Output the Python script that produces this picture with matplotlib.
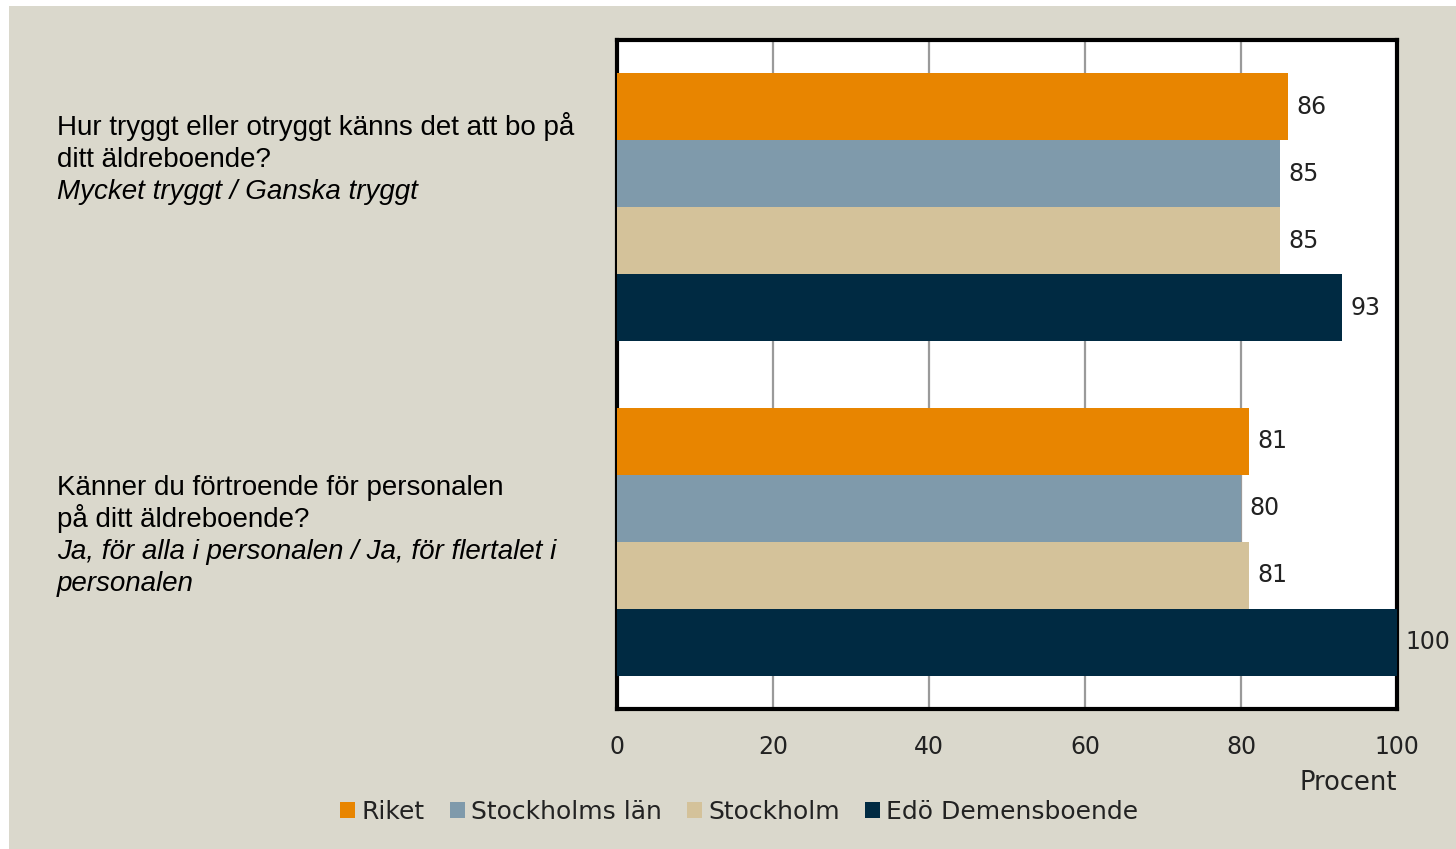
import matplotlib
matplotlib.use("Agg")
import matplotlib.pyplot as plt
from matplotlib.patches import Rectangle
import numpy as np

series = ["Riket", "Stockholms län", "Stockholm", "Edö Demensboende"]
colors = ["#E88500", "#7F9AAB", "#D4C29A", "#002A42"]
q1_values = [86, 85, 85, 93]
q2_values = [81, 80, 81, 100]
xticks = [0, 20, 40, 60, 80, 100]

q1_lines = [("Hur tryggt eller otryggt känns det att bo på", "normal"),
            ("ditt äldreboende?", "normal"),
            ("Mycket tryggt / Ganska tryggt", "italic")]
q2_lines = [("Känner du förtroende för personalen", "normal"),
            ("på ditt äldreboende?", "normal"),
            ("Ja, för alla i personalen / Ja, för flertalet i", "italic"),
            ("personalen", "italic")]

W, H = 1456, 849
fig = plt.figure(figsize=(W / 100, H / 100), dpi=100, facecolor="white")
bg = "#DAD8CC"
fig.patches.append(Rectangle((9 / W, 0), 1 - 9 / W, 1 - 6 / H,
                             transform=fig.transFigure, facecolor=bg,
                             edgecolor="none", zorder=-10))

ax = fig.add_axes([617 / W, 1 - 709 / H, (1397 - 617) / W, (709 - 40) / H])
ax.set_facecolor("white")

for gi, vals in enumerate([q1_values, q2_values]):
    for si, v in enumerate(vals):
        y = gi * 5 + si
        ax.barh(y, v, height=1.0, color=colors[si], zorder=3,
                label=series[si] if gi == 0 else None)
        ax.annotate(str(v), xy=(v, y), xytext=(6, 0), textcoords="offset points",
                    ha="left", va="center", fontsize=17, color="#222222",
                    family="DejaVu Sans", zorder=5, annotation_clip=False)

ax.set_xlim(0, 100)
ax.set_ylim(9, -1)
ax.set_yticks([])
ax.set_xticks(xticks)
ax.set_xticklabels([str(t) for t in xticks], fontsize=17, color="#222222")
ax.tick_params(axis="x", length=0, pad=19)
for x in xticks[1:-1]:
    ax.axvline(x, color="#9A9A9A", lw=1.6, zorder=1)
for s in ax.spines.values():
    s.set_color("black")
    s.set_linewidth(3)

fig.text(1397 / W, 1 - 783 / H, "Procent", ha="right", va="center",
         fontsize=18.5, color="#222222")

for i, (txt, st) in enumerate(q1_lines):
    fig.text(57 / W, 1 - (135 + 32 * i) / H, txt, ha="left", va="baseline",
             fontsize=20, style=st, family="Liberation Sans", color="black")
for i, (txt, st) in enumerate(q2_lines):
    fig.text(57 / W, 1 - (495 + 32 * i) / H, txt, ha="left", va="baseline",
             fontsize=20, style=st, family="Liberation Sans", color="black")

leg = fig.legend(loc="center", bbox_to_anchor=(739 / W, 1 - 812 / H), ncol=4,
                 frameon=False, fontsize=18, handlelength=0.6, handleheight=0.6,
                 handletextpad=0.25, columnspacing=1.0, borderaxespad=0)
for t in leg.get_texts():
    t.set_color("#222222")

fig.savefig("out.png", dpi=100, facecolor=fig.get_facecolor())
